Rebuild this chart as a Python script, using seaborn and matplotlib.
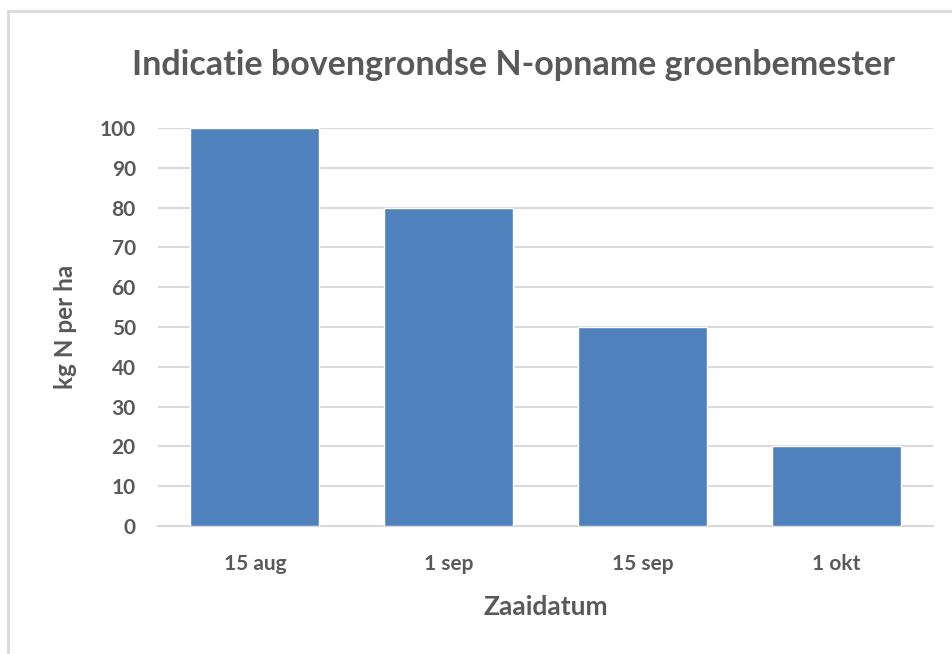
import matplotlib
matplotlib.use("Agg")
import matplotlib.pyplot as plt
import matplotlib.patches as mpatches
import pandas as pd
import seaborn as sns

# data
zaaidata = ["15 aug", "1 sep", "15 sep", "1 okt"]
n_opname = [100, 80, 50, 20]

df = pd.DataFrame({"Zaaidatum": zaaidata, "kg N per ha": n_opname})

sns.set_style("white")
plt.rcParams["font.family"] = ["Lato", "DejaVu Sans"]

grey = "#595959"
fig = plt.figure(figsize=(9.53, 6.54), dpi=100)
ax = fig.add_axes([158 / 953, 1 - 526 / 654, (933.5 - 158) / 953, (526 - 128) / 654])

sns.barplot(data=df, x="Zaaidatum", y="kg N per ha", color="#4F81BD",
            saturation=1, width=0.665, ax=ax, zorder=3)

ax.set_ylim(0, 100)
ax.set_xlim(-0.5, 3.5)
ax.set_yticks(range(0, 101, 10))
ax.yaxis.grid(True, color="#D9D9D9", linewidth=1.5, zorder=0)
ax.set_axisbelow(True)
for side in ["top", "right", "left"]:
    ax.spines[side].set_visible(False)
ax.spines["bottom"].set_color("#D9D9D9")
ax.spines["bottom"].set_linewidth(1.5)
ax.tick_params(axis="both", length=0, labelsize=15, labelcolor=grey)
ax.tick_params(axis="y", pad=16)
ax.tick_params(axis="x", pad=20)
for lbl in ax.get_xticklabels() + ax.get_yticklabels():
    lbl.set_fontweight("bold")

ax.set_xlabel("Zaaidatum", fontsize=19, fontweight="bold", color=grey, labelpad=15)
ax.set_ylabel("kg N per ha", fontsize=17.5, fontweight="bold", color=grey, labelpad=16)
fig.text(514 / 953, 1 - 65 / 654, "Indicatie bovengrondse N-opname groenbemester",
         ha="center", va="center", fontsize=24.5, fontweight="bold", color=grey)

# chart frame, clipped at right and bottom
frame = mpatches.Rectangle((8 / 953, -0.1), 1.1, 1 - 11 / 654 + 0.1,
                           transform=fig.transFigure, fill=False,
                           edgecolor="#D9D9D9", linewidth=2)
fig.patches.append(frame)

fig.savefig("out.png", dpi=100)
